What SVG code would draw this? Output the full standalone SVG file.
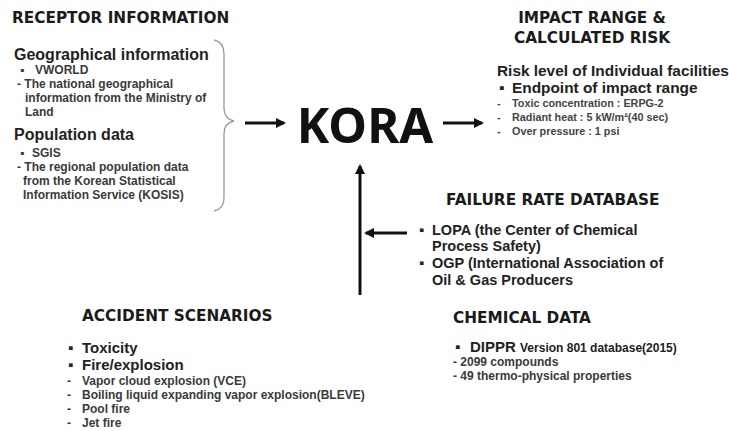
<svg xmlns="http://www.w3.org/2000/svg" width="729" height="431" viewBox="0 0 729 431">
<defs>
<marker id="ah" viewBox="0 0 10 10" refX="8" refY="5" markerWidth="3.6" markerHeight="3.4" orient="auto" markerUnits="strokeWidth">
<path d="M0,0 L10,5 L0,10 z" fill="#111"/>
</marker>
<style>
.h{font-family:"DejaVu Sans",Verdana,sans-serif;font-weight:bold;font-size:15.3px;fill:#1a1a1a}
.s{font-family:"Liberation Sans",Arial,sans-serif;font-weight:bold;fill:#222}
.b{font-size:16px}
.m{font-size:15px}
.f{font-size:14.5px}
.n{font-size:12px;fill:#3a3a3a}
.k{font-size:10.8px;fill:#444}
.c{stroke:#111;stroke-width:3;fill:none}
</style>
</defs>
<rect width="729" height="431" fill="#fff"/>

<g id="receptor">
<text class="h" x="12" y="23">RECEPTOR INFORMATION</text>
<text class="s b" x="14" y="60">Geographical information</text>
<text class="s n" x="20" y="74">▪</text>
<text class="s n" x="35" y="74">VWORLD</text>
<text class="s n" x="17" y="88">- The national geographical</text>
<text class="s n" x="25" y="102">information from the Ministry of</text>
<text class="s n" x="25" y="116">Land</text>
<text class="s b" x="14" y="140">Population data</text>
<text class="s n" x="20" y="157">▪</text>
<text class="s n" x="32" y="157">SGIS</text>
<text class="s n" x="17" y="171">- The regional population data</text>
<text class="s n" x="23" y="185">from the Korean Statistical</text>
<text class="s n" x="23" y="199">Information Service (KOSIS)</text>
<path d="M214,40 Q224,42 224,54 L224,108 Q224,119 234,121 Q224,123 224,134 L224,198 Q224,209 214,211" fill="none" stroke="#9a9a9a" stroke-width="1.3"/>
</g>

<g id="kora">
<text x="365" y="143" text-anchor="middle" font-family="'Noto Sans',sans-serif" font-weight="bold" font-size="49" fill="#111">KORA</text>
</g>

<g id="impact">
<text class="h" x="592" y="23" text-anchor="middle">IMPACT RANGE &amp;</text>
<text class="h" x="592" y="43" text-anchor="middle">CALCULATED RISK</text>
<text class="s" x="497" y="76" font-size="15.4">Risk level of Individual facilities</text>
<text class="s" x="499" y="93" font-size="15.4">▪</text>
<text class="s" x="512" y="93" font-size="15.4">Endpoint of impact range</text>
<text class="s k" x="497" y="107">-</text>
<text class="s k" x="512" y="107">Toxic concentration : ERPG-2</text>
<text class="s k" x="497" y="121">-</text>
<text class="s k" x="512" y="121">Radiant heat : 5 kW/m²(40 sec)</text>
<text class="s k" x="497" y="135">-</text>
<text class="s k" x="512" y="135">Over pressure : 1 psi</text>
</g>

<g id="failure">
<text class="h" x="446" y="205">FAILURE RATE DATABASE</text>
<text class="s f" x="419" y="235">▪</text>
<text class="s f" x="432" y="235">LOPA (the Center of Chemical</text>
<text class="s f" x="432" y="251">Process Safety)</text>
<text class="s f" x="419" y="268">▪</text>
<text class="s f" x="432" y="268">OGP (International Association of</text>
<text class="s f" x="432" y="285">Oil &amp; Gas Producers</text>
</g>

<g id="accident">
<text class="h" x="82" y="321">ACCIDENT SCENARIOS</text>
<text class="s m" x="68" y="353">▪</text>
<text class="s m" x="82" y="353">Toxicity</text>
<text class="s m" x="68" y="370">▪</text>
<text class="s m" x="82" y="370">Fire/explosion</text>
<text class="s n" x="67" y="385">-</text>
<text class="s n" x="82" y="385">Vapor cloud explosion (VCE)</text>
<text class="s n" x="67" y="399">-</text>
<text class="s n" x="82" y="399">Boiling liquid expanding vapor explosion(BLEVE)</text>
<text class="s n" x="67" y="413">-</text>
<text class="s n" x="82" y="413">Pool fire</text>
<text class="s n" x="67" y="427">-</text>
<text class="s n" x="82" y="427">Jet fire</text>
</g>

<g id="chemical">
<text class="h" x="453" y="323">CHEMICAL DATA</text>
<text class="s m" x="455" y="352">▪</text>
<text class="s" x="470" y="352" font-size="15">DIPPR <tspan font-size="12">Version 801 database(2015)</tspan></text>
<text class="s n" x="453" y="366">- 2099 compounds</text>
<text class="s n" x="453" y="380">- 49 thermo-physical properties</text>
</g>

<g id="connectors">
<line class="c" x1="245" y1="123" x2="284" y2="123" marker-end="url(#ah)"/>
<line class="c" x1="443" y1="123" x2="482" y2="123" marker-end="url(#ah)"/>
<line class="c" x1="360" y1="295" x2="360" y2="166" marker-end="url(#ah)"/>
<line class="c" x1="407" y1="233" x2="366" y2="233" marker-end="url(#ah)"/>
</g>
</svg>
